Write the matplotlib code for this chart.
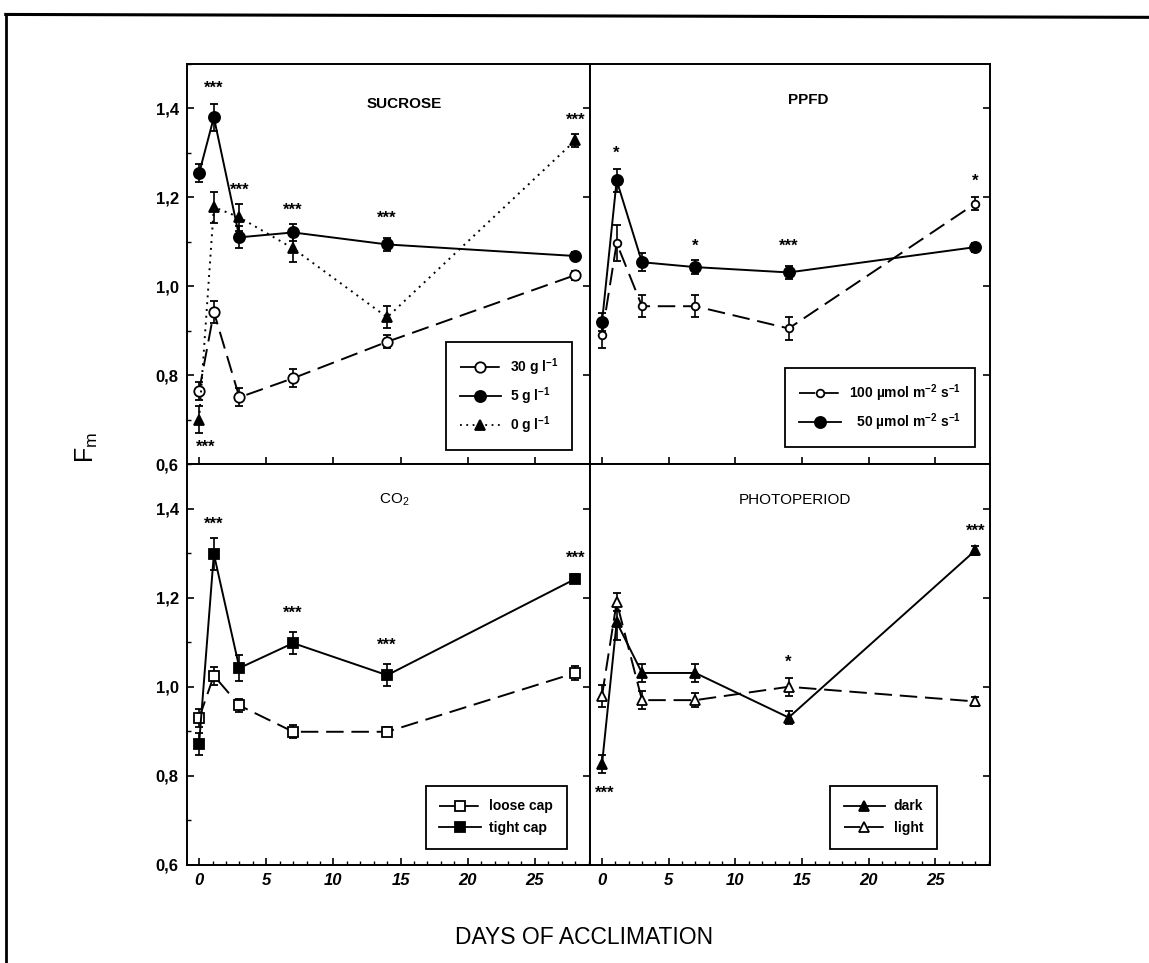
import numpy as np
import matplotlib.pyplot as plt
from matplotlib.ticker import MultipleLocator, FuncFormatter, NullLocator
from matplotlib.lines import Line2D

plt.rcParams['font.family'] = ['Liberation Sans', 'DejaVu Sans']
plt.rcParams['mathtext.default'] = 'regular'

# days of acclimation (sampling points)
days = [0, 1.1, 3, 7, 14, 28]

# SUCROSE
suc_30 = [0.764, 0.942, 0.75, 0.793, 0.875, 1.025]
suc_30_err = [0.02, 0.025, 0.02, 0.02, 0.015, 0.01]
suc_5 = [1.254, 1.38, 1.11, 1.121, 1.094, 1.068]
suc_5_err = [0.02, 0.03, 0.025, 0.02, 0.015, 0.01]
suc_0 = [0.70, 1.178, 1.155, 1.085, 0.93, 1.328]
suc_0_err = [0.03, 0.035, 0.03, 0.03, 0.025, 0.015]
suc_star_x = [0.5, 1.1, 3, 7, 14, 28]
suc_star_y = [0.643, 1.452, 1.222, 1.178, 1.16, 1.38]
suc_star = ['***', '***', '***', '***', '***', '***']

# PPFD
ppfd_100 = [0.89, 1.097, 0.955, 0.955, 0.905, 1.186]
ppfd_100_err = [0.03, 0.04, 0.025, 0.025, 0.025, 0.015]
ppfd_50 = [0.919, 1.238, 1.054, 1.043, 1.031, 1.088]
ppfd_50_err = [0.02, 0.025, 0.02, 0.015, 0.015, 0.01]
ppfd_star_x = [1.1, 7, 14, 28]
ppfd_star_y = [1.306, 1.097, 1.097, 1.243]
ppfd_star = ['*', '*', '***', '*']

# CO2
co2_loose = [0.93, 1.025, 0.958, 0.899, 0.899, 1.031]
co2_loose_err = [0.02, 0.02, 0.015, 0.015, 0.01, 0.015]
co2_tight = [0.872, 1.298, 1.042, 1.098, 1.026, 1.242]
co2_tight_err = [0.025, 0.035, 0.03, 0.025, 0.025, 0.01]
co2_star_x = [1.1, 7, 14, 28]
co2_star_y = [1.37, 1.17, 1.10, 1.295]
co2_star = ['***', '***', '***', '***']

# PHOTOPERIOD
ph_dark = [0.826, 1.145, 1.031, 1.031, 0.931, 1.306]
ph_dark_err = [0.02, 0.04, 0.02, 0.02, 0.015, 0.01]
ph_light = [0.98, 1.19, 0.97, 0.97, 1.00, 0.967]
ph_light_err = [0.025, 0.02, 0.02, 0.015, 0.02, 0.01]
ph_star_x = [0.2, 14, 28]
ph_star_y = [0.768, 1.062, 1.356]
ph_star = ['***', '*', '***']

DASH = (0, (9, 4))
DOT = (0, (1, 2.5))

fig = plt.figure(figsize=(11.49, 9.63), dpi=100)

L, M, R = 0.16275, 0.51349, 0.86162
B, C, T = 0.10177, 0.51817, 0.93354
ax_suc = fig.add_axes([L, C, M - L, T - C])
ax_ppfd = fig.add_axes([M, C, R - M, T - C])
ax_co2 = fig.add_axes([L, B, M - L, C - B])
ax_ph = fig.add_axes([M, B, R - M, C - B])

comma = FuncFormatter(lambda v, p: ('%.1f' % v).replace('.', ','))


def style_axes(ax, left_col, bottom_row):
    ax.set_xlim(-0.9, 29.1)
    ax.set_ylim(0.6, 1.5)
    for s in ax.spines.values():
        s.set_linewidth(1.4)
    ax.yaxis.set_major_locator(MultipleLocator(0.2))
    ax.set_xticks([0, 5, 10, 15, 20, 25])
    if left_col:
        ax.yaxis.set_minor_locator(MultipleLocator(0.1))
        ax.yaxis.set_major_formatter(comma)
    else:
        ax.yaxis.set_minor_locator(NullLocator())
    if bottom_row:
        ax.xaxis.set_minor_locator(MultipleLocator(1))
    else:
        ax.xaxis.set_minor_locator(NullLocator())
    ax.tick_params(axis='both', which='major', direction='in', length=5, width=1.2,
                   left=left_col, right=True, top=False, bottom=True,
                   labelleft=left_col, labelbottom=bottom_row,
                   labelsize=12, pad=6)
    ax.tick_params(axis='both', which='minor', direction='in', length=3, width=1.0,
                   left=left_col, right=False, top=False, bottom=bottom_row)
    for lab in ax.get_yticklabels():
        lab.set_fontweight('bold')
    for lab in ax.get_xticklabels():
        lab.set_fontweight('bold')
        lab.set_fontstyle('italic')


def series(ax, y, err, marker, ls, filled, ms):
    ax.errorbar(days, y, yerr=err, marker=marker, linestyle=ls, color='k',
                mfc='k' if filled else 'white', mec='k', mew=1.3, ms=ms,
                lw=1.4, elinewidth=1.2, capsize=3, capthick=1.2)
    return Line2D([], [], marker=marker, linestyle=ls, color='k',
                  mfc='k' if filled else 'white', mec='k', mew=1.3, ms=ms, lw=1.3)


def stars(ax, xs, ys, txts):
    for x, y, t in zip(xs, ys, txts):
        ax.text(x, y - 0.006, t, ha='center', va='center', fontsize=12, fontweight='bold')


def legend(ax, handles, labels, anchor):
    lg = ax.legend(handles, labels, loc='lower right', bbox_to_anchor=anchor,
                   borderaxespad=0, fancybox=False, framealpha=1, edgecolor='k',
                   borderpad=1.0, labelspacing=0.55, handlelength=3.0, handletextpad=0.6,
                   prop={'size': 10, 'weight': 'bold'})
    lg.get_frame().set_linewidth(1.3)


# SUCROSE
style_axes(ax_suc, True, False)
h30 = series(ax_suc, suc_30, suc_30_err, 'o', DASH, False, 7.5)
h5 = series(ax_suc, suc_5, suc_5_err, 'o', '-', True, 8)
h0 = series(ax_suc, suc_0, suc_0_err, '^', DOT, True, 7)
stars(ax_suc, suc_star_x, suc_star_y, suc_star)
ax_suc.text(15.3, 1.41, 'SUCROSE', ha='center', va='center', fontsize=11, fontweight='bold')
legend(ax_suc, [h30, h5, h0], ['30 g l$^{-1}$', '5 g l$^{-1}$', '0 g l$^{-1}$'], (0.955, 0.035))

# PPFD
style_axes(ax_ppfd, False, False)
h100 = series(ax_ppfd, ppfd_100, ppfd_100_err, 'o', DASH, False, 5.5)
h50 = series(ax_ppfd, ppfd_50, ppfd_50_err, 'o', '-', True, 8)
stars(ax_ppfd, ppfd_star_x, ppfd_star_y, ppfd_star)
ax_ppfd.text(15.5, 1.42, 'PPFD', ha='center', va='center', fontsize=11, fontweight='bold')
legend(ax_ppfd, [h100, h50], ['100 \u00b5mol m$^{-2}$ s$^{-1}$', '  50 \u00b5mol m$^{-2}$ s$^{-1}$'],
       (0.9625, 0.0425))

# CO2
style_axes(ax_co2, True, True)
hl = series(ax_co2, co2_loose, co2_loose_err, 's', DASH, False, 6.5)
ht = series(ax_co2, co2_tight, co2_tight_err, 's', '-', True, 6.5)
stars(ax_co2, co2_star_x, co2_star_y, co2_star)
ax_co2.text(14.5, 1.42, 'CO$_2$', ha='center', va='center', fontsize=11)
legend(ax_co2, [hl, ht], ['loose cap', 'tight cap'], (0.943, 0.04))

# PHOTOPERIOD
style_axes(ax_ph, False, True)
hd = series(ax_ph, ph_dark, ph_dark_err, '^', '-', True, 7)
hli = series(ax_ph, ph_light, ph_light_err, '^', DASH, False, 7)
stars(ax_ph, ph_star_x, ph_star_y, ph_star)
ax_ph.text(14.5, 1.42, 'PHOTOPERIOD', ha='center', va='center', fontsize=11)
legend(ax_ph, [hd, hli], ['dark', 'light'], (0.8675, 0.04))

fig.text(0.076, 0.535, r'F$_\mathregular{m}$', rotation=90, ha='center', va='center', fontsize=18)
fig.text(0.508, 0.026, 'DAYS OF ACCLIMATION', ha='center', va='center', fontsize=16.5)

# outer frame of the scanned figure
fig.add_artist(Line2D([0.005, 0.005], [0.0, 0.985], color='k', lw=2))
fig.add_artist(Line2D([0.005, 1.0], [0.985, 0.982], color='k', lw=2.2))

fig.savefig('out.png', dpi=100)
